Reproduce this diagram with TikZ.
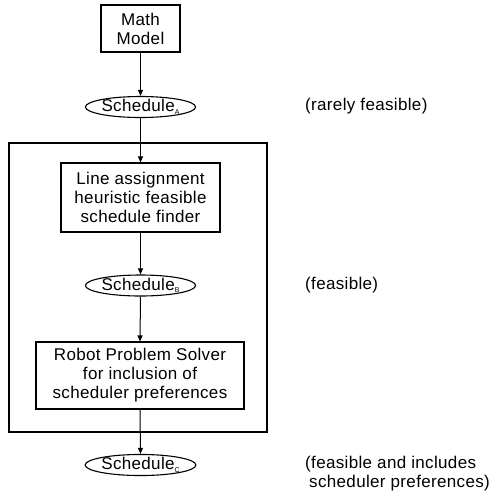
\documentclass[tikz,border=0pt]{standalone}
\usepackage{fontspec}
\setmainfont[LetterSpace=2]{Liberation Sans}
\usetikzlibrary{shapes.geometric,arrows.meta}
\newcommand{\sched}[1]{Schedule\raisebox{-2.5pt}{\fontsize{7}{7}\selectfont #1}}
\begin{document}
\begin{tikzpicture}[x=1pt,y=-1pt,
  every node/.style={font=\fontsize{17}{19}\selectfont, inner sep=0pt},
  boxnode/.style={draw, line width=1.1pt, rectangle, align=center},
  ellnode/.style={draw, line width=1.1pt, ellipse, minimum width=107pt, minimum height=21pt},
  framenode/.style={draw, line width=1.1pt, rectangle},
  lbl/.style={anchor=west, align=left},
  arr/.style={line width=1pt, -{Triangle[length=6pt,width=5pt]}}]
\useasboundingbox (0,0) rectangle (496,496);
\node[framenode, minimum width=258pt, minimum height=289pt] (frame) at (138,287.5) {};
\node[boxnode, minimum width=79pt, minimum height=47pt] (mm) at (140.5,28.5) {Math\\Model};
\node[ellnode] (sa) at (140.5,107) {\sched{A}};
\node[boxnode, minimum width=159pt, minimum height=69pt] (la) at (140.5,197.5) {Line assignment\\heuristic feasible\\schedule finder};
\node[ellnode] (sb) at (140.5,285.5) {\sched{B}};
\node[boxnode, minimum width=208pt, minimum height=67pt] (rp) at (140,375.5) {Robot Problem Solver\\for inclusion of\\scheduler preferences};
\node[ellnode] (sc) at (140.5,465) {\sched{C}};
\node[lbl] (ra) at (305,106) {(rarely feasible)};
\node[lbl] (fe) at (305,285) {(feasible)};
\node[lbl] (fi) at (305,473.5) {(feasible and includes\\\hspace*{4pt}scheduler preferences)};
\draw[arr] (mm.south) -- (sa.north);
\draw[arr] (sa.south) -- (la.north);
\draw[arr] (la.south) -- (sb.north);
\draw[arr] (sb.south) -- (rp.north);
\draw[arr] (rp.south) -- (sc.north);
\end{tikzpicture}
\end{document}
